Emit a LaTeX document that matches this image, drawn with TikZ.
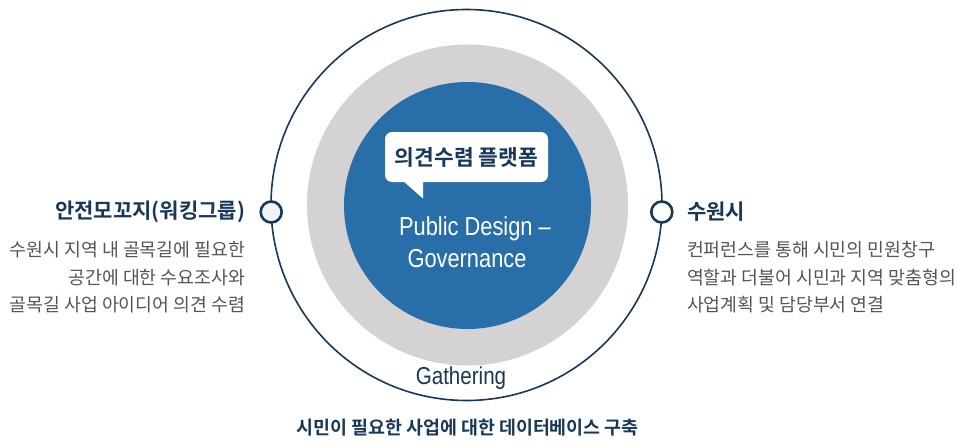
\documentclass[tikz,border=0pt]{standalone}
\usepackage{fontspec}
\setmainfont{Noto Sans CJK KR}[BoldFont={Noto Sans CJK KR Bold}]
\newfontfamily\latinfont{Liberation Sans}[FakeStretch=0.84]
\definecolor{pblue}{RGB}{40,110,168}
\definecolor{ringgray}{RGB}{212,210,211}
\definecolor{navy}{RGB}{24,56,90}
\definecolor{txtgray}{RGB}{85,85,85}
\definecolor{dotfill}{RGB}{242,242,242}
\tikzset{
  lbl/.style={inner sep=0pt, outer sep=0pt},
  ttl/.style={lbl, text=navy, font=\bfseries\fontsize{21}{24}\selectfont},
  body/.style={lbl, text=txtgray, font=\fontsize{18.3}{21}\selectfont},
  dot/.style={circle, draw=navy, line width=2.6pt, minimum size=21pt, inner sep=0pt},
}
\begin{document}
\begin{tikzpicture}[x=1pt,y=-1pt]
\useasboundingbox (0,0) rectangle (958,444);
\fill[white] (0,0) rectangle (958,444);
% circles
\node[circle, fill=ringgray, minimum size=321pt, inner sep=0pt] (ring) at (467.5,205) {};
\node[circle, fill=pblue, minimum size=247pt, inner sep=0pt] (core) at (467.5,205.5) {};
\node[circle, draw=navy, line width=1.6pt, minimum size=391pt, inner sep=0pt] (outer) at (466.5,205) {};
% small dots
\node[dot, fill=dotfill] (ldot) at (271.2,212) {};
\node[dot, fill=white] (rdot) at (661.8,212) {};
% speech bubble
\node[fill=white, rounded corners=7pt, minimum width=163pt, minimum height=50pt, inner sep=0pt] (bubble) at (466.5,157) {};
\fill[white] (402,180) -- (423,198.5) -- (423,180) -- cycle;
\node[ttl, font=\bfseries\fontsize{21.5}{24}\selectfont] (btxt) at (466.5,157) {의견수렴 플랫폼};
% center text
\node[lbl, text=white, font=\latinfont\fontsize{26}{30}\selectfont] (pd) at (475,229) {Public Design –};
\node[lbl, text=white, font=\latinfont\fontsize{26}{30}\selectfont] (gov) at (467,259) {Governance};
\node[lbl, text=navy, font=\latinfont\fontsize{24.5}{28}\selectfont] (gath) at (461,378) {Gathering};
% bottom
\node[lbl, text=navy, font=\bfseries\fontsize{18.4}{22}\selectfont] (bot) at (467.5,428) {시민이 필요한 사업에 대한 데이터베이스 구축};
% left
\node[ttl, anchor=east] (lt) at (245,212) {안전모꼬지(워킹그룹)};
\node[body, anchor=east] (l1) at (245,250) {수원시 지역 내 골목길에 필요한};
\node[body, anchor=east] (l2) at (245,278) {공간에 대한 수요조사와};
\node[body, anchor=east] (l3) at (245,305) {골목길 사업 아이디어 의견 수렴};
% right
\node[ttl, anchor=west] (rt) at (687,212) {수원시};
\node[body, anchor=west] (r1) at (687,250) {컨퍼런스를 통해 시민의 민원창구};
\node[body, anchor=west] (r2) at (687,278) {역할과 더불어 시민과 지역 맞춤형의};
\node[body, anchor=west] (r3) at (687,305) {사업계획 및 담당부서 연결};
\end{tikzpicture}
\end{document}
